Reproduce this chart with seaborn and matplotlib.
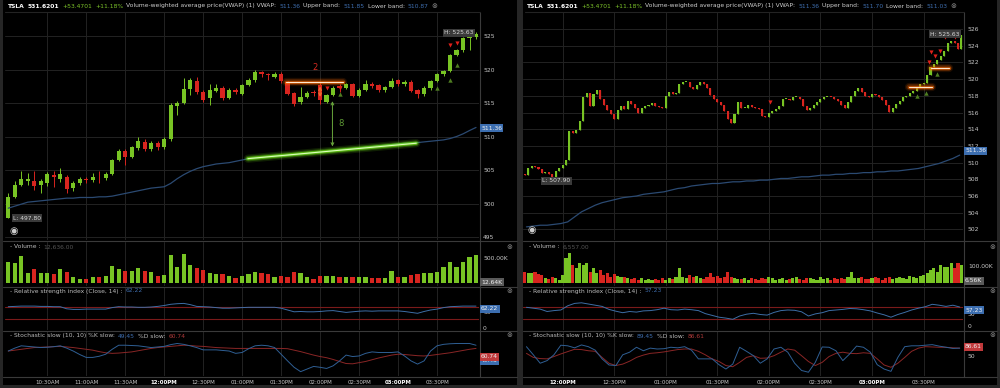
import numpy as np
import pandas as pd
import matplotlib
matplotlib.use("Agg")
import matplotlib.pyplot as plt
from matplotlib.lines import Line2D
import seaborn as sns

# ---------------- left chart: TSLA 5 minute candles from 10:00 ----------------
left_open = [497.9, 501.0, 502.8, 503.4, 503.4, 502.7, 503.1, 504.3, 503.7, 504.0,
             502.3, 503.0, 503.7, 503.5, 504.0, 503.8, 504.4, 506.5, 507.8, 507.0,
             508.3, 509.2, 508.1, 509.0, 508.4, 509.6, 514.6, 515.0, 517.1, 518.3,
             516.6, 515.7, 516.8, 517.3, 515.8, 516.9, 516.4, 517.7, 518.4, 519.6,
             519.4, 518.9, 519.4, 518.2, 516.5, 515.1, 515.9, 516.7, 517.7, 515.2,
             516.2, 517.5, 517.3, 517.8, 516.1, 517.0, 517.8, 517.7, 517.0, 517.4,
             518.4, 517.8, 518.2, 516.9, 516.3, 517.3, 518.3, 519.3, 519.8, 522.2,
             522.9, 524.7, 524.9]
left_high = [501.5, 503.3, 504.9, 504.5, 504.8, 503.6, 504.7, 504.9, 505.3, 504.3,
             503.3, 504.0, 504.0, 504.5, 504.8, 504.7, 506.7, 508.1, 508.2, 508.6,
             509.9, 509.7, 509.3, 509.3, 510.0, 515.0, 515.3, 518.8, 518.8, 518.9,
             516.9, 517.9, 517.8, 517.6, 517.2, 517.2, 517.9, 518.8, 519.9, 519.8,
             519.5, 519.6, 519.6, 518.3, 516.7, 517.4, 516.8, 517.0, 518.2, 516.4,
             517.6, 517.8, 518.0, 518.0, 517.2, 518.4, 518.2, 517.9, 517.6, 518.8,
             518.6, 518.4, 518.4, 517.1, 517.5, 518.5, 519.5, 520.0, 522.4, 523.1,
             524.9, 525.63, 525.6]
left_low = [497.8, 500.8, 502.6, 502.8, 502.0, 501.6, 502.6, 502.5, 503.2, 501.5,
            501.8, 502.8, 503.0, 503.2, 503.0, 503.5, 504.2, 506.3, 505.7, 506.8,
            508.0, 507.9, 507.9, 508.0, 508.2, 509.4, 513.2, 514.8, 516.2, 516.4,
            515.2, 514.7, 516.6, 515.5, 515.6, 516.3, 516.2, 517.5, 518.2, 518.9,
            518.4, 518.8, 518.0, 516.2, 514.6, 514.9, 515.7, 516.0, 514.9, 515.0,
            516.0, 516.7, 517.1, 515.9, 515.9, 516.8, 517.3, 516.7, 516.6, 517.2,
            517.6, 517.6, 516.6, 515.8, 516.1, 517.0, 518.1, 519.1, 519.6, 522.0,
            522.6, 522.9, 524.5]
left_close = [501.0, 502.8, 503.6, 503.7, 502.6, 503.3, 504.4, 504.0, 504.4, 502.1,
              503.0, 503.7, 503.5, 504.0, 503.9, 504.4, 506.5, 507.9, 506.9, 508.4,
              509.3, 508.2, 509.0, 508.5, 509.7, 514.7, 515.0, 517.1, 518.4, 516.6,
              515.5, 516.9, 517.3, 515.7, 516.9, 516.7, 517.7, 518.5, 519.7, 519.4,
              519.2, 519.4, 518.3, 516.4, 514.9, 515.9, 516.5, 516.5, 515.4, 516.2,
              517.3, 517.2, 517.8, 516.1, 517.0, 517.8, 517.6, 516.9, 517.4, 518.3,
              517.8, 518.2, 516.8, 516.3, 517.3, 518.3, 519.3, 519.8, 522.2, 522.9,
              524.7, 524.9, 525.3]
left_volume_k = [451, 416, 569, 222, 298, 222, 208, 194, 291, 243,
                 139, 83, 83, 139, 139, 153, 368, 291, 257, 257,
                 312, 264, 243, 153, 174, 583, 333, 611, 382, 326,
                 278, 208, 194, 194, 153, 118, 153, 194, 243, 222,
                 194, 139, 153, 139, 243, 222, 125, 83, 160, 160,
                 160, 139, 139, 125, 125, 139, 104, 118, 104, 264,
                 139, 139, 174, 187, 222, 222, 243, 333, 451, 347,
                 451, 555, 590]
left_vwap = [499.3, 499.6, 499.9, 500.2, 500.3, 500.4, 500.5, 500.6, 500.7, 500.8,
             500.8, 500.9, 500.9, 500.9, 501.0, 501.0, 501.1, 501.3, 501.5, 501.7,
             501.9, 502.1, 502.3, 502.4, 502.5, 503.0, 503.7, 504.3, 504.8, 505.2,
             505.5, 505.7, 505.9, 506.0, 506.1, 506.3, 506.5, 506.7, 506.8, 506.9,
             507.0, 507.1, 507.1, 507.2, 507.3, 507.4, 507.5, 507.6, 507.7, 507.8,
             507.9, 508.0, 508.1, 508.2, 508.3, 508.4, 508.5, 508.6, 508.7, 508.8,
             508.9, 509.0, 509.0, 509.1, 509.2, 509.3, 509.4, 509.5, 509.7, 510.0,
             510.4, 510.9, 511.36]
left_rsi = [71, 72, 73, 73, 73, 72, 72, 71, 71, 64,
            62, 62, 63, 63, 63, 63, 68, 71, 70, 70,
            69, 69, 70, 72, 75, 79, 81, 82, 78, 72,
            71, 70, 68, 66, 66, 67, 68, 69, 69, 69,
            69, 69, 66, 60, 54, 55, 54, 54, 55, 57,
            58, 55, 52, 54, 56, 57, 56, 57, 57, 57,
            57, 55, 52, 49, 55, 60, 63, 68, 71, 72,
            73, 73, 73]
left_k = [74, 84, 92, 90, 88, 86, 87, 89, 92, 84,
          74, 62, 52, 52, 56, 63, 80, 94, 94, 93,
          92, 89, 86, 88, 90, 96, 100, 97, 92, 86,
          78, 78, 78, 76, 74, 66, 69, 82, 92, 94,
          92, 86, 63, 40, 18, 3, 12, 21, 18, 14,
          23, 40, 60, 55, 57, 66, 71, 69, 69, 69,
          71, 57, 40, 29, 40, 74, 92, 97, 99, 100,
          100, 100, 94]
left_d = [74, 77, 80, 83, 86, 87, 88, 89, 90, 88,
          86, 83, 80, 77, 72, 68, 66, 67, 69, 71,
          75, 79, 83, 86, 88, 90, 92, 94, 93, 91,
          90, 88, 86, 85, 84, 83, 83, 83, 83, 83,
          83, 83, 83, 82, 77, 72, 66, 60, 55, 51,
          45, 38, 31, 30, 34, 38, 44, 50, 55, 60,
          63, 62, 60, 58, 57, 59, 62, 65, 68, 72,
          76, 80, 83]

# ---------------- right chart: 2 minute bars from 11:38, indicators every 4 min ----------------
right_close = [508.5, 509.4, 509.6, 509.5, 509.2, 508.7, 508.9, 508.6, 507.9, 509.0,
               509.4, 509.7, 510.3, 513.8, 513.6, 513.9, 515.0, 517.9, 518.3, 516.8,
               518.2, 518.7, 517.6, 516.9, 516.3, 515.8, 515.2, 516.3, 516.8, 516.4,
               517.4, 517.0, 516.6, 515.9, 516.5, 516.8, 516.9, 517.1, 516.8, 516.7,
               516.6, 518.0, 518.5, 518.2, 518.3, 519.4, 519.6, 519.7, 519.0, 518.8,
               519.3, 519.7, 519.4, 518.9, 518.1, 517.6, 517.3, 516.9, 516.2, 515.2,
               514.8, 515.8, 517.2, 516.5, 516.6, 516.9, 516.7, 516.6, 516.4, 515.6,
               515.5, 516.0, 516.2, 516.4, 516.8, 517.6, 517.6, 517.5, 517.8, 517.9,
               517.6, 516.8, 516.3, 516.5, 516.9, 517.2, 517.6, 517.8, 517.9, 517.8,
               517.6, 517.4, 516.9, 516.6, 517.3, 518.0, 518.6, 518.9, 518.4, 518.0,
               517.9, 518.2, 518.1, 517.9, 517.5, 516.9, 516.1, 516.6, 517.0, 517.4,
               517.8, 518.0, 518.3, 518.6, 519.1, 519.4, 519.5, 520.5, 521.4, 521.8,
               522.3, 522.8, 523.4, 524.3, 524.6, 524.3, 523.6, 525.3]
right_volume_k = [73, 67, 62, 73, 58, 52,
                  31, 25, 42, 31, 21, 52,
                  156, 188, 115, 94,
                  125, 115, 129, 73, 94, 62, 83,
                  52, 62, 42, 58, 46, 37, 42, 31,
                  25, 30, 21, 35, 20, 28, 18, 25, 22, 30, 20, 35, 25, 38,
                  94,
                  42, 31, 52, 37, 46, 31, 25, 42, 62, 37,
                  44, 35, 40, 73, 42, 33, 28,
                  25, 30, 22, 35, 28, 20, 33, 25, 38, 30, 22, 27, 35, 20, 25, 30,
                  42, 28, 22, 35, 30, 25, 20, 38, 27, 33, 22, 30, 25, 35, 28, 40,
                  73,
                  35, 30, 42, 28, 25, 33, 38, 30, 22, 35, 40, 27, 30, 42, 35, 28, 45, 38, 33, 48,
                  52, 62, 83, 94, 73, 115, 104, 100, 125, 94, 129, 115]
right_vwap = [502.3, 502.4, 502.5, 502.5, 502.6, 502.7, 502.9, 503.5, 504.1, 504.5,
              504.9, 505.2, 505.4, 505.6, 505.8, 505.9, 506.0, 506.2, 506.3, 506.4,
              506.5, 506.7, 506.9, 507.0, 507.2, 507.3, 507.4, 507.5, 507.5, 507.6,
              507.7, 507.7, 507.8, 507.8, 507.9, 507.9, 508.0, 508.1, 508.1, 508.2,
              508.3, 508.3, 508.4, 508.5, 508.5, 508.6, 508.6, 508.7, 508.7, 508.8,
              508.8, 508.9, 508.9, 509.0, 509.0, 509.1, 509.2, 509.3, 509.5, 509.7,
              509.9, 510.2, 510.5, 510.9]
right_rsi = [69, 66, 63, 55, 58, 60, 74, 82, 84, 80,
             76, 72, 62, 56, 51, 55, 53, 57, 58, 61,
             66, 61, 60, 63, 61, 58, 48, 42, 36, 33,
             29, 40, 46, 49, 45, 43, 52, 58, 60, 59,
             54, 40, 47, 51, 58, 60, 62, 65, 64, 61,
             57, 50, 44, 36, 45, 52, 60, 66, 71, 79,
             76, 72, 76, 70]
right_k = [89, 61, 32, 41, 61, 94, 92, 85, 95, 89,
           77, 47, 26, 24, 61, 70, 87, 75, 84, 81,
           82, 87, 85, 89, 77, 47, 47, 47, 27, 12,
           29, 87, 73, 58, 32, 47, 81, 87, 70, 32,
           7, 1, 35, 88, 87, 75, 41, 64, 91, 87,
           70, 27, 12, 4, 52, 89, 92, 92, 94, 96,
           91, 87, 83, 84]
right_d = [66, 52, 48, 47, 55, 64, 72, 80, 79, 75,
           73, 52, 32, 24, 29, 39, 52, 60, 66, 68,
           71, 75, 79, 81, 81, 73, 61, 47, 38, 24,
           20, 35, 52, 58, 49, 50, 58, 70, 81, 77,
           58, 38, 24, 35, 55, 66, 70, 66, 65, 68,
           66, 47, 26, 18, 32, 52, 73, 84, 89, 88,
           87, 87, 85, 84]

# drawn annotations (time in minutes after midnight, price)
left_resist = ([814, 857.5], [518.2, 518.2])
left_trend = ([784.5, 914], [506.7, 509.0])
left_sell = ([845, 855, 939.8, 945], [517.3, 517.3, 523.7, 524.0])
left_buy = ([855, 929.8, 939.8, 945], [516.4, 517.2, 518.5, 520.7])
right_resist = [([921.5, 934.8], [519.1, 519.1]), ([934.2, 944.7], [521.3, 521.3])]
right_sell = ([840.7, 933.1, 934.0, 936.5, 939.8, 942.7, 948.1],
              [517.3, 522.0, 523.3, 522.8, 523.4, 525.0, 525.0])
right_buy = ([926.3, 931.5, 937.9], [518.0, 518.3, 520.6])

GREEN = '#78c424'
RED = '#d8251f'
BLUE = '#3d6ea6'
VWAP_C = '#2b4a72'
GRID = '#232323'
SEP = '#3a3a3a'
TICK = '#c9c9c9'
FS = 4.3
W, H = 1000, 388

sns.set_theme(style='dark', rc={'axes.facecolor': 'black', 'figure.facecolor': '#262626'})
plt.rcParams['font.family'] = ['DejaVu Sans']

fig = plt.figure(figsize=(W / 100, H / 100), dpi=100)
fig.patch.set_facecolor('#262626')
renderer = fig.canvas.get_renderer()


def px_axes(x0, y0, x1, y1):
    ax = fig.add_axes([x0 / W, 1 - y1 / H, (x1 - x0) / W, (y1 - y0) / H])
    ax.set_facecolor('black')
    for s in ax.spines.values():
        s.set_visible(False)
    ax.tick_params(length=0, labelsize=FS, colors=TICK)
    return ax


def fig_line(x0, y0, x1, y1, color=SEP, lw=0.8):
    fig.add_artist(Line2D([x0 / W, x1 / W], [1 - y0 / H, 1 - y1 / H], color=color, lw=lw,
                          transform=fig.transFigure))


def ptext(x, y, s, **kw):
    return fig.text(x / W, 1 - y / H, s, va='center', **kw)


def rich(x, y, parts, size=FS):
    for s, col, wt in parts:
        t = ptext(x, y, s, color=col, fontsize=size, fontweight=wt, ha='left')
        x += t.get_window_extent(renderer=renderer).width + 3
    return x


def tag(x, y, s, fc, tc='#f0f0f0'):
    ptext(x, y, s, color=tc, fontsize=FS, ha='left',
          bbox=dict(boxstyle='square,pad=0.25', fc=fc, ec='none'))


def hhmm(t):
    h, m = divmod(int(t), 60)
    suf = 'AM' if h < 12 else 'PM'
    h12 = h if h <= 12 else h - 12
    return f'{h12:02d}:{m:02d}{suf}'


def glow(ax, xs, ys, core, halo):
    for lw, a in ((6, 0.12), (4, 0.25), (2.4, 0.55)):
        ax.plot(xs, ys, color=halo, lw=lw, alpha=a, solid_capstyle='round')
    ax.plot(xs, ys, color=core, lw=0.8)


def draw_chart(x0, x1, t_bar, o, h, l, c, vol, t_ind, vwap, rsi, k, d,
               xlim, price_lim, price_ticks, vol_lim, ticks, bar_w, vol_w, wicks):
    axp = px_axes(x0, 12, x1, 240)
    axv = px_axes(x0, 242, x1, 286)
    axr = px_axes(x0, 287, x1, 330)
    axs = px_axes(x0, 331, x1, 376)
    o, c = np.asarray(o), np.asarray(c)
    cols = np.where(c >= o, GREEN, RED)
    if wicks:
        axp.vlines(t_bar, l, h, colors=cols, lw=0.7)
    else:
        # dense bars: a thin stroke from open to close keeps the trace continuous
        axp.vlines(t_bar, o, c, colors=cols, lw=0.9)
    axp.bar(t_bar, np.maximum(np.abs(c - o), 0.12), bottom=np.minimum(o, c),
            width=bar_w, color=cols, lw=0)
    sns.lineplot(x=t_ind, y=vwap, ax=axp, color=VWAP_C, lw=0.9)
    axp.set_ylim(*price_lim)
    axp.yaxis.tick_right()
    axp.set_yticks(price_ticks)
    axp.set_yticklabels([str(p) for p in price_ticks])
    axp.tick_params(axis='y', pad=3)
    axp.grid(axis='y', color=GRID, lw=0.7)

    axv.bar(t_bar, vol, width=vol_w, color=cols, lw=0)
    axv.set_ylim(*vol_lim)

    axr.axhline(70, color='#7a1a1a', lw=0.8)
    axr.axhline(30, color='#7a1a1a', lw=0.8)
    sns.lineplot(x=t_ind, y=rsi, ax=axr, color=BLUE, lw=0.7)
    axr.set_ylim(-6.7, 136.7)

    sns.lineplot(x=t_ind, y=d, ax=axs, color='#8a2626', lw=0.7)
    sns.lineplot(x=t_ind, y=k, ax=axs, color='#2f5f94', lw=0.7)
    axs.set_ylim(-12, 143)

    for ax in (axp, axv, axr, axs):
        ax.set_xlim(*xlim)
        ax.set_xticks(ticks)
        ax.grid(axis='x', color=GRID, lw=0.7)
        ax.set_xlabel('')
        ax.set_ylabel('')
        ax.tick_params(axis='x', labelbottom=False)
    for ax in (axv, axr, axs):
        ax.set_yticks([])
    axs.tick_params(axis='x', labelbottom=True, pad=3, labelsize=4)
    axs.set_xticklabels([hhmm(t) for t in ticks])
    for lab, t in zip(axs.get_xticklabels(), ticks):
        if t % 180 == 0:
            lab.set_fontweight('bold')
            lab.set_color('white')
    return axp


# panel backgrounds
for bx0, bx1 in ((3, 517), (523, 997)):
    bg = px_axes(bx0, 0, bx1, 385)
    bg.set_xticks([])
    bg.set_yticks([])

t_left = 600 + 5 * np.arange(len(left_close))
axL = draw_chart(5, 479, t_left, left_open, left_high, left_low, left_close, left_volume_k,
                 t_left, left_vwap, left_rsi, left_k, left_d,
                 (597.5, 962.3), (494.55, 528.6), list(range(495, 530, 5)), (-56, 860),
                 list(range(630, 960, 30)), 3.3, 3.3, True)

t_right = 698 + 2 * np.arange(len(right_close))
t_right_ind = 699 + 4 * np.arange(len(right_rsi))
right_open = np.r_[508.6, right_close[:-1]]
axR = draw_chart(523, 963, t_right, right_open, None, None, right_close, right_volume_k,
                 t_right_ind, right_vwap, right_rsi, right_k, right_d,
                 (697, 952.9), (500.73, 528.04), list(range(502, 528, 2)), (-17, 258),
                 list(range(720, 960, 30)), 1.2, 1.8, False)

# annotations on the left chart
glow(axL, *left_resist, '#ffe8d0', '#ff6a00')
glow(axL, *left_trend, '#dcffb8', '#7dff1a')
axL.text(836, 520.3, '2', color='#d42a20', fontsize=6, ha='center', va='center')
axL.annotate('', xy=(840, 517.9), xytext=(840, 515.5),
             arrowprops=dict(arrowstyle='<->', color='#f07030', lw=0.8, mutation_scale=5))
axL.annotate('', xy=(849.5, 515.7), xytext=(849.5, 508.1),
             arrowprops=dict(arrowstyle='<->', color='#6aa83c', lw=0.7, mutation_scale=5))
axL.text(856.5, 512.0, '8', color='#5e9a35', fontsize=6, ha='center', va='center')
axL.scatter(*left_sell, marker='v', s=9, color='#e0201a', zorder=5, lw=0)
axL.scatter(*left_buy, marker='^', s=10, color='#4f7d22', zorder=5, lw=0)

for xs, ys in right_resist:
    glow(axR, xs, ys, '#ffe8d0', '#ff6a00')
axR.scatter(*right_sell, marker='v', s=9, color='#e0201a', zorder=5, lw=0)
axR.scatter(*right_buy, marker='^', s=10, color='#4f7d22', zorder=5, lw=0)

# panel frame lines
for x0, x1, xv in ((3, 517, 479.5), (523, 997, 963.5)):
    for y in (241, 286.5, 330.5, 376.5):
        fig_line(x0, y, x1, y)
    fig_line(xv, 12, xv, 376.5)
    fig_line(x0 + 2, 12, xv, 12, color=GRID)

# headers
label_c = '#cfcfcf'
val_c = '#3f6fb0'
for hx, upper, lower in ((8, '511.85', '510.87'), (527, '511.70', '511.03')):
    end = rich(hx, 6, [('TSLA', 'white', 'bold'), ('531.6201', 'white', 'bold'),
                       ('+53.4701', '#7dc42a', 'normal'), ('+11.18%', '#7dc42a', 'normal'),
                       ('Volume-weighted average price(VWAP) (1) VWAP:', label_c, 'normal'),
                       ('511.36', val_c, 'normal'), ('Upper band:', label_c, 'normal'),
                       (upper, val_c, 'normal'), ('Lower band:', label_c, 'normal'),
                       (lower, val_c, 'normal')])
    ptext(end, 6, '\u2297', color='#8a8a8a', fontsize=5, ha='left')

# sub panel titles
for sx, vol_txt, rsi_txt, k_txt, d_txt in ((10, '12,636.00', '62.22', '49.45', '60.74'),
                                           (529, '6,557.00', '57.23', '89.45', '86.61')):
    rich(sx, 247, [('- Volume :', '#bdbdbd', 'normal'), (vol_txt, '#555555', 'normal')])
    rich(sx, 291, [('- Relative strength index (Close, 14) :', '#bdbdbd', 'normal'),
                   (rsi_txt, val_c, 'normal')])
    rich(sx, 336, [('- Stochastic slow (10, 10) %K slow:', '#bdbdbd', 'normal'),
                   (k_txt, val_c, 'normal'), ('%D slow:', '#bdbdbd', 'normal'),
                   (d_txt, '#b03a3a', 'normal')])

# axis value tags, left chart
tag(481, 128, '511.36', '#3c6eb0')
ptext(483, 259, '500.00K', color=TICK, fontsize=FS)
tag(481, 282, '12.64K', '#5a5a5a')
ptext(483, 313, '50', color=TICK, fontsize=FS)
tag(481, 309, '62.22', '#3c6eb0')
ptext(483, 328, '0', color=TICK, fontsize=FS)
tag(481, 361, '49.45', '#3c6eb0')
tag(481, 357, '60.74', '#c0393b')
tag(444, 33, 'H: 525.63', '#3a3a3a', '#d8d8d8')
tag(13, 218, 'L: 497.80', '#3a3a3a', '#d8d8d8')

# axis value tags, right chart
tag(965, 151, '511.36', '#3c6eb0')
ptext(968, 267, '100.00K', color=TICK, fontsize=FS)
tag(965, 281, '6.56K', '#5a5a5a')
ptext(968, 314, '50', color=TICK, fontsize=FS)
tag(965, 310, '57.23', '#3c6eb0')
ptext(968, 327, '0', color=TICK, fontsize=FS)
ptext(968, 357, '50', color=TICK, fontsize=FS)
tag(965, 347, '86.61', '#c0393b')
tag(930, 34, 'H: 525.63', '#3a3a3a', '#d8d8d8')
tag(542, 181, 'L: 507.90', '#3a3a3a', '#d8d8d8')

# close buttons and pins
for cx in (509, 992):
    for cy in (247, 291, 335):
        ptext(cx, cy, '\u2297', color='#8a8a8a', fontsize=5, ha='center')
ptext(14, 231, '\u25c9', color='#cccccc', fontsize=7, ha='center')
ptext(532, 230, '\u25c9', color='#cccccc', fontsize=7, ha='center')

fig.savefig('out.png', dpi=100, facecolor=fig.get_facecolor())
